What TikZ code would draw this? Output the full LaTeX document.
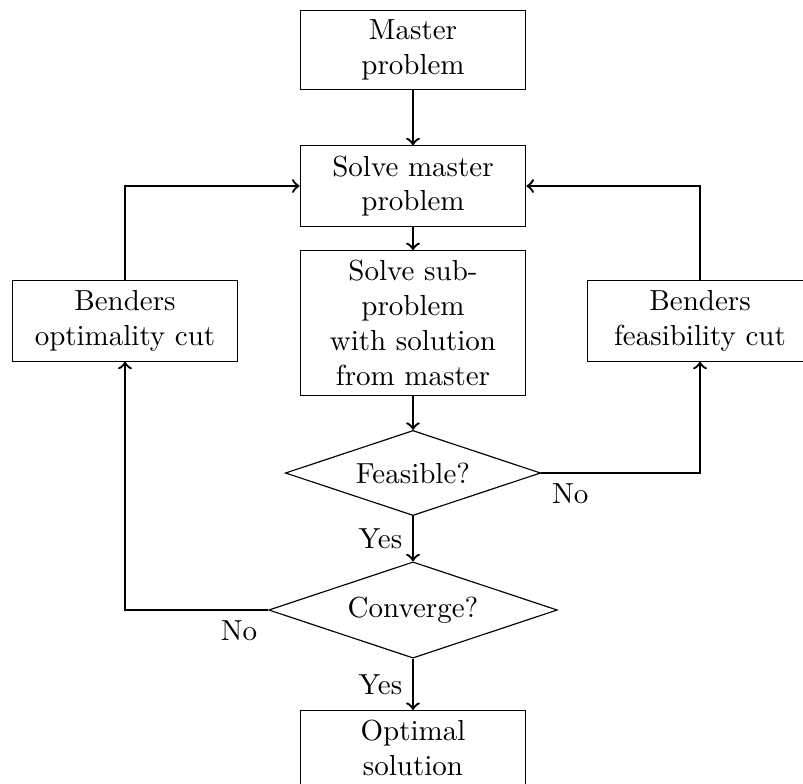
\documentclass[tikz,border=0pt]{standalone}
\usetikzlibrary{shapes.geometric}
\begin{document}
\begin{tikzpicture}[x=0.3448pt,y=-0.3448pt,
  procbox/.style={draw, rectangle, text width=2.5cm, align=center},
  decision/.style={draw, diamond, aspect=3, inner sep=3.4pt},
  conn/.style={thick,->}]
\useasboundingbox (0,0) rectangle (803,783);
\node[procbox] (master) at (413,50) {Master\\problem};
\node[procbox] (solve) at (413,186) {Solve master\\problem};
\node[procbox] (sub) at (413,323) {Solve sub-\\problem\\with solution\\from master};
\node[decision] (feas) at (413,473) {Feasible?};
\node[decision] (conv) at (413,610) {Converge?};
\node[procbox] (opt) at (413,748) {Optimal\\solution};
\node[procbox] (optcut) at (125,321) {Benders\\optimality cut};
\node[procbox] (feascut) at (700,321) {Benders\\feasibility cut};
\draw[conn] (master) -- (solve);
\draw[conn] (solve) -- (sub);
\draw[conn] (sub) -- (feas);
\draw[conn] (feas) -- node[left] {Yes} (conv);
\draw[conn] (conv) -- node[left] {Yes} (opt);
\draw[conn] (feas.east) node[below right] {No} -| (feascut.south);
\draw[conn] (conv.west) node[below left] {No} -| (optcut.south);
\draw[conn] (optcut.north) |- (solve.west);
\draw[conn] (feascut.north) |- (solve.east);
\end{tikzpicture}
\end{document}
